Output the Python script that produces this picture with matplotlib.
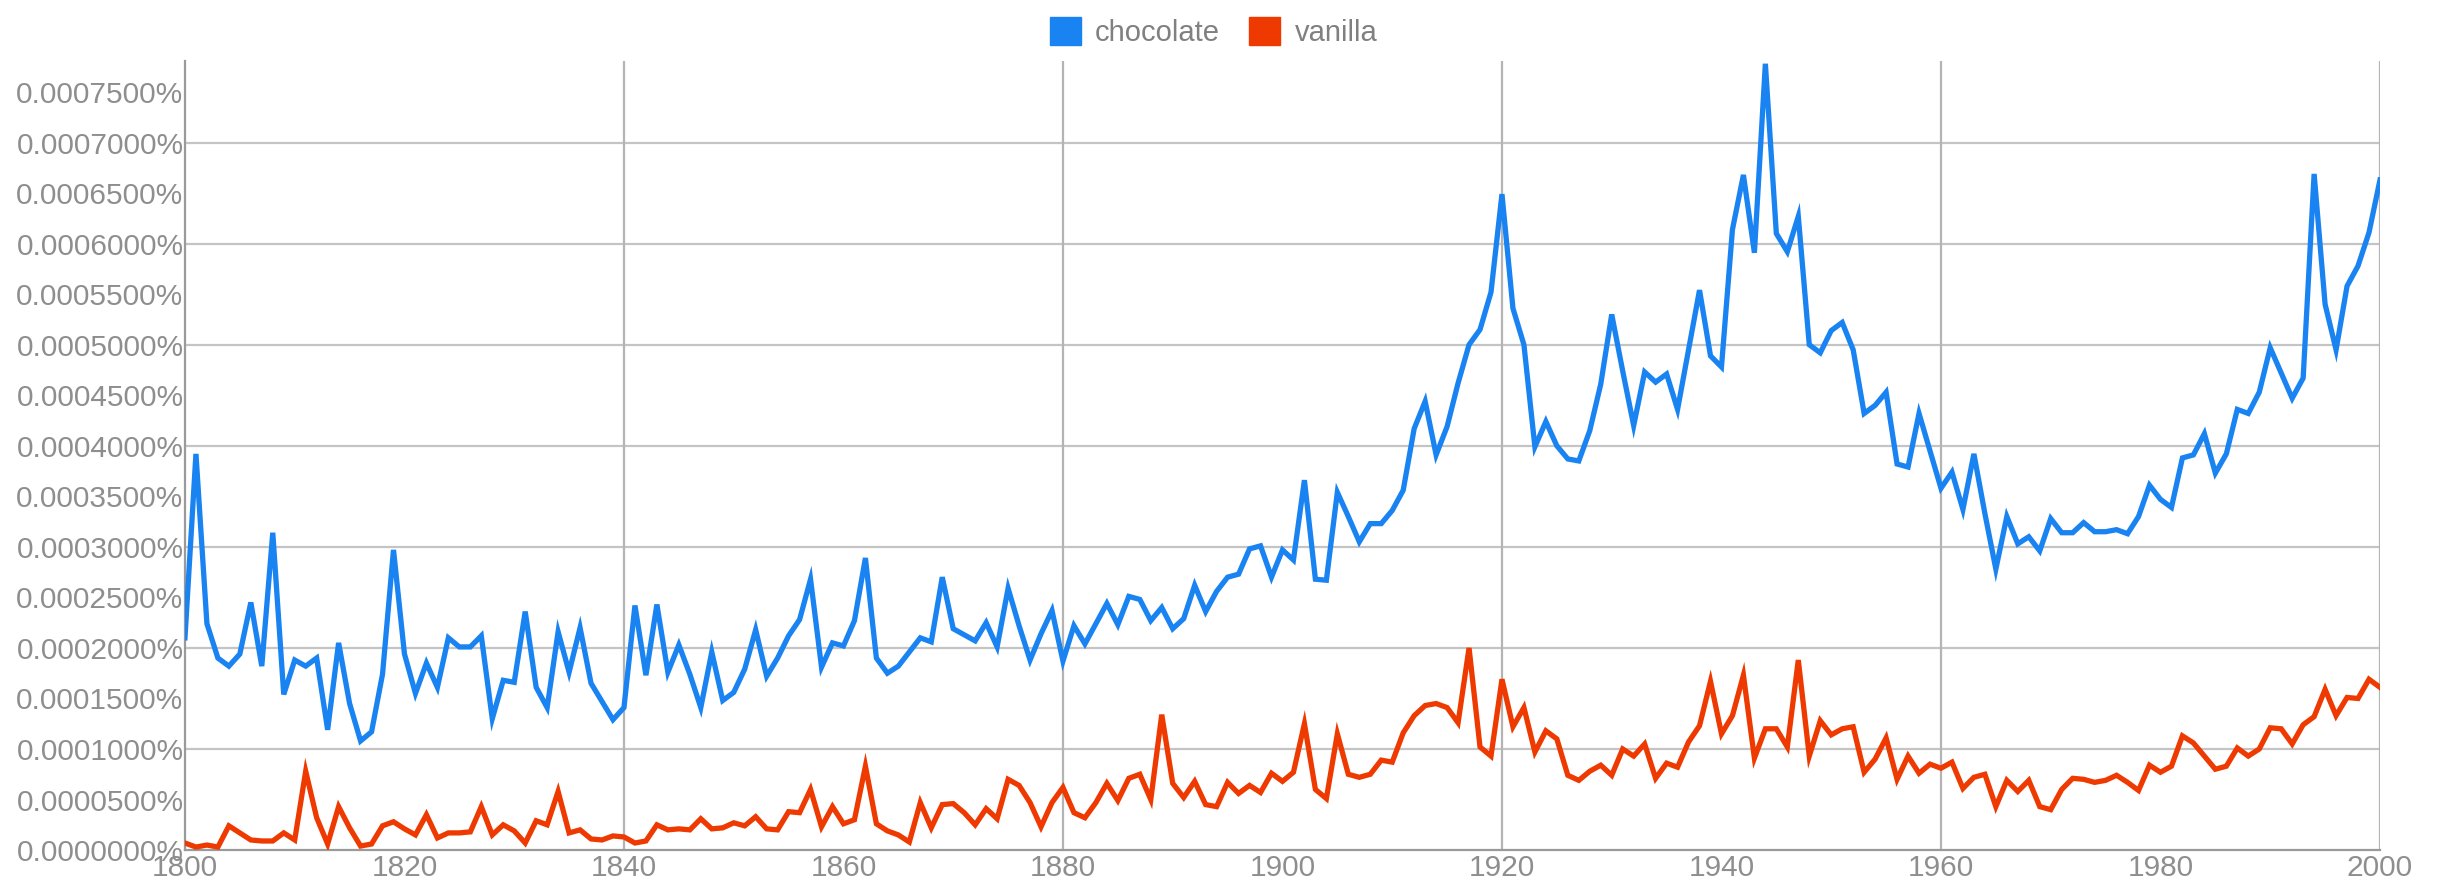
import matplotlib
matplotlib.use("Agg")
import matplotlib.pyplot as plt
from matplotlib.patches import Patch
import numpy as np

plt.rcParams["font.family"] = ["Liberation Sans", "DejaVu Sans"]

# frecuencia anual en unidades de 1e-4 %
years = list(range(1800, 2001))

chocolate = [
    2.10, 3.92, 2.24, 1.90, 1.82, 1.94, 2.45, 1.82, 3.14, 1.54,  # 1800
    1.88, 1.82, 1.90, 1.19, 2.05, 1.45, 1.08, 1.17, 1.74, 2.97,  # 1810
    1.94, 1.55, 1.85, 1.61, 2.10, 2.01, 2.01, 2.12, 1.30, 1.68,  # 1820
    1.66, 2.36, 1.61, 1.41, 2.16, 1.76, 2.20, 1.65, 1.47, 1.29,  # 1830
    1.41, 2.42, 1.73, 2.43, 1.76, 2.03, 1.74, 1.41, 1.96, 1.48,  # 1840
    1.56, 1.79, 2.18, 1.72, 1.90, 2.12, 2.28, 2.68, 1.81, 2.05,  # 1850
    2.02, 2.27, 2.89, 1.90, 1.75, 1.82, 1.96, 2.10, 2.06, 2.70,  # 1860
    2.19, 2.13, 2.07, 2.25, 2.01, 2.59, 2.22, 1.88, 2.14, 2.37,  # 1870
    1.87, 2.22, 2.04, 2.24, 2.44, 2.23, 2.51, 2.48, 2.27, 2.40,  # 1880
    2.19, 2.29, 2.62, 2.36, 2.56, 2.70, 2.73, 2.98, 3.01, 2.70,  # 1890
    2.97, 2.87, 3.66, 2.68, 2.67, 3.54, 3.30, 3.05, 3.23, 3.23,  # 1900
    3.36, 3.56, 4.17, 4.44, 3.91, 4.19, 4.62, 5.00, 5.15, 5.52,  # 1910
    6.49, 5.36, 5.00, 3.99, 4.24, 4.00, 3.87, 3.85, 4.15, 4.61,  # 1920
    5.30, 4.74, 4.20, 4.73, 4.63, 4.71, 4.36, 4.95, 5.54, 4.89,  # 1930
    4.78, 6.14, 6.68, 5.91, 7.78, 6.10, 5.92, 6.27, 5.00, 4.92,  # 1940
    5.14, 5.22, 4.95, 4.32, 4.40, 4.53, 3.82, 3.79, 4.32, 3.95,  # 1950
    3.58, 3.74, 3.37, 3.92, 3.33, 2.78, 3.30, 3.03, 3.10, 2.96,  # 1960
    3.28, 3.14, 3.14, 3.24, 3.15, 3.15, 3.17, 3.13, 3.30, 3.61,  # 1970
    3.47, 3.39, 3.88, 3.91, 4.12, 3.73, 3.92, 4.36, 4.32, 4.53,  # 1980
    4.97, 4.72, 4.47, 4.67, 6.69, 5.40, 4.95, 5.58, 5.78, 6.11,  # 1990
    6.63,
]

vanilla = [
    0.07, 0.03, 0.05, 0.03, 0.24, 0.17, 0.10, 0.09, 0.09, 0.17,  # 1800
    0.10, 0.78, 0.32, 0.06, 0.43, 0.22, 0.04, 0.06, 0.24, 0.28,  # 1810
    0.21, 0.15, 0.35, 0.12, 0.17, 0.17, 0.18, 0.43, 0.15, 0.25,  # 1820
    0.19, 0.07, 0.29, 0.25, 0.58, 0.17, 0.20, 0.11, 0.10, 0.14,  # 1830
    0.13, 0.07, 0.09, 0.25, 0.20, 0.21, 0.20, 0.31, 0.21, 0.22,  # 1840
    0.27, 0.24, 0.33, 0.21, 0.20, 0.38, 0.37, 0.60, 0.23, 0.43,  # 1850
    0.26, 0.30, 0.83, 0.26, 0.19, 0.15, 0.08, 0.47, 0.22, 0.45,  # 1860
    0.46, 0.37, 0.25, 0.41, 0.31, 0.70, 0.64, 0.47, 0.23, 0.47,  # 1870
    0.62, 0.37, 0.32, 0.47, 0.66, 0.49, 0.71, 0.75, 0.50, 1.34,  # 1880
    0.66, 0.52, 0.68, 0.45, 0.43, 0.67, 0.56, 0.64, 0.57, 0.76,  # 1890
    0.68, 0.77, 1.25, 0.60, 0.51, 1.15, 0.75, 0.72, 0.75, 0.89,  # 1900
    0.87, 1.16, 1.33, 1.43, 1.45, 1.41, 1.26, 2.00, 1.02, 0.93,  # 1910
    1.69, 1.22, 1.41, 0.97, 1.18, 1.10, 0.74, 0.69, 0.78, 0.84,  # 1920
    0.74, 1.00, 0.93, 1.05, 0.71, 0.86, 0.82, 1.07, 1.23, 1.67,  # 1930
    1.15, 1.33, 1.73, 0.91, 1.20, 1.20, 1.02, 1.88, 0.93, 1.28,  # 1940
    1.14, 1.20, 1.22, 0.77, 0.90, 1.11, 0.70, 0.93, 0.76, 0.85,  # 1950
    0.81, 0.87, 0.61, 0.72, 0.75, 0.43, 0.69, 0.58, 0.69, 0.43,  # 1960
    0.40, 0.60, 0.71, 0.70, 0.67, 0.69, 0.74, 0.67, 0.59, 0.84,  # 1970
    0.77, 0.83, 1.13, 1.06, 0.93, 0.80, 0.83, 1.01, 0.93, 1.00,  # 1980
    1.21, 1.20, 1.05, 1.24, 1.32, 1.59, 1.33, 1.51, 1.50, 1.69,  # 1990
    1.61,
]

series_names = ["chocolate", "vanilla"]
colors = ["#1a83f2", "#ee3a00"]

x_labels = list(range(1800, 2001, 20))
y_labels = np.arange(0, 0.00076, 0.00005)

choc = np.array(chocolate) * 1e-4
van = np.array(vanilla) * 1e-4

fig = plt.figure(figsize=(24.37, 8.8), dpi=100)
ax = fig.add_axes([0.0759, 0.034, 0.9007, 0.897])

# rejilla: cada 0.0001 y cada 40 años
for v in np.arange(0.0001, 0.00075, 0.0001):
    ax.axhline(v, color="#c4c4c4", lw=1.6, zorder=1)
for yr in range(1840, 2001, 40):
    ax.axvline(yr, color="#b4b4b4", lw=1.6, zorder=1)

ax.plot(years, choc, color=colors[0], lw=3.8, zorder=3, solid_joinstyle="miter")
ax.plot(years, van, color=colors[1], lw=3.8, zorder=3, solid_joinstyle="miter")

ax.set_xlim(1800, 2000)
ax.set_ylim(0, 0.000781)
ax.set_xticks(x_labels)
ax.set_xticklabels([str(y) for y in x_labels])
ax.set_yticks(y_labels)
ax.set_yticklabels([f"{v:.7f}%" for v in y_labels])
ax.tick_params(length=0, labelsize=21.5, labelcolor="#8e8e8e")
ax.tick_params(axis="x", pad=3)
ax.tick_params(axis="y", pad=1)

for s in ["top", "right"]:
    ax.spines[s].set_visible(False)
ax.spines["left"].set_color("#9a9a9a")
ax.spines["left"].set_linewidth(1.6)
ax.spines["bottom"].set_color("#9a9a9a")
ax.spines["bottom"].set_linewidth(1.6)

handles = [Patch(facecolor=c, edgecolor=c) for c in colors]
leg = fig.legend(handles, series_names, loc="upper center", ncol=2,
                 bbox_to_anchor=(0.498, 1.0), frameon=False, fontsize=21,
                 handlelength=1.05, handleheight=1.05, handletextpad=0.5,
                 columnspacing=1.0, borderaxespad=0.2)
for t in leg.get_texts():
    t.set_color("#808080")

fig.savefig("out.png", dpi=100)
